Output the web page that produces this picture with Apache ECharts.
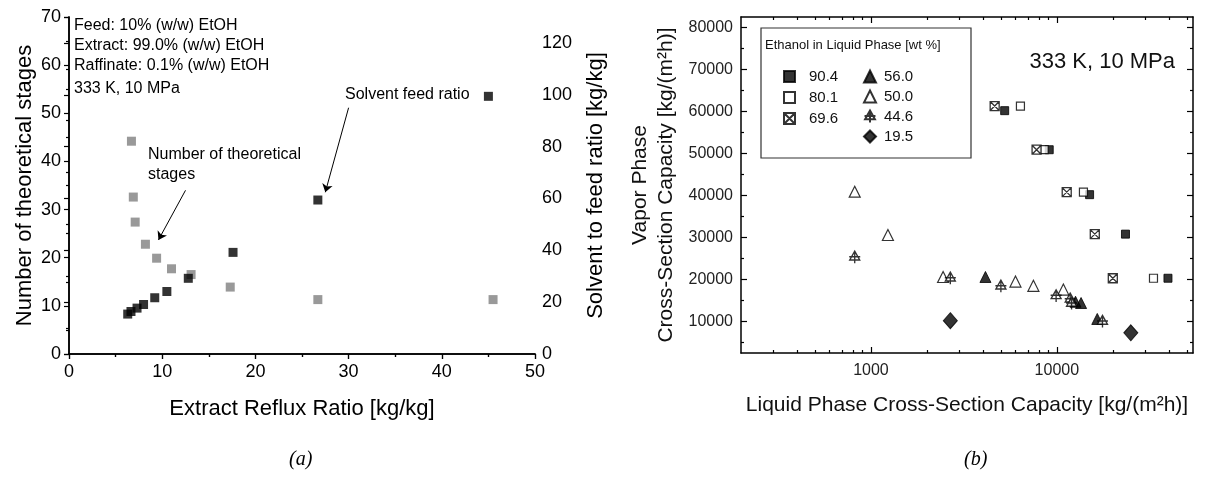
<!DOCTYPE html>
<html>
<head>
<meta charset="utf-8">
<script src="https://cdn.jsdelivr.net/npm/echarts@6.0.0/dist/echarts.min.js"></script>
<style>
  html, body { margin: 0; padding: 0; background: #fff; }
  #chart { width: 1205px; height: 477px; }
</style>
</head>
<body>
<div id="chart"></div>
<script>
'use strict';

/* (a) stages and solvent-to-feed ratio vs. extract reflux ratio */
const stageReflux = [6.7, 6.9, 7.1, 8.2, 9.4, 11.0, 13.1, 17.3, 26.7, 45.5];
const stageCount = [44.2, 32.6, 27.4, 22.8, 19.9, 17.7, 16.5, 13.9, 11.3, 11.3];
const solventReflux = [6.3, 6.65, 7.3, 8.0, 9.2, 10.5, 12.8, 17.6, 26.7, 45.0];
const solventRatio = [15.4, 16.4, 17.7, 19.1, 21.7, 24.1, 29.2, 39.2, 59.4, 99.4];

/* (b) vapour vs. liquid capacity, [liquid, vapour] per ethanol content */
const eth904 = [[5240, 60200], [9100, 50900], [15000, 40200], [23400, 30800], [39600, 20300]];
const eth801 = [[6370, 61300], [8550, 50900], [13900, 40800], [33100, 20300]];
const eth696 = [[4630, 61300], [7780, 50900], [11300, 40800], [16000, 30800], [20000, 20300]];
const eth560 = [[4130, 20600], [12600, 14700], [13500, 14400], [16500, 10600]];
const eth500 = [[818, 40900], [1234, 30600], [2444, 20600], [5990, 19500], [7480, 18500], [10840, 17600]];
const eth446 = [[818, 25300], [2673, 20300], [5000, 18400], [9910, 16100], [11800, 15300], [12000, 14300], [17600, 10000]];
const eth195 = [[2673, 10200], [25000, 7300]];

const vaporMajor = [10000, 20000, 30000, 40000, 50000, 60000, 70000, 80000];
const vaporMinor = [5000, 15000, 25000, 35000, 45000, 55000, 65000, 75000];
const liquidMajor = [1000, 10000];
const liquidMinor = [300, 400, 500, 600, 700, 800, 900, 2000, 3000, 4000, 5000, 6000, 7000, 8000, 9000, 20000, 30000, 40000, 50000];

const FONT = "'Liberation Sans', Arial, Helvetica, sans-serif";
const SERIF = "'Liberation Serif', 'Times New Roman', serif";

// Square with an X through it, and a triangle with a cross (Origin-style markers)
const CROSS_SQUARE = 'path://M0,0H10V10H0Z M0,0L10,10 M10,0L0,10';
const CROSS_TRIANGLE = 'path://M5,0L9.5,8H0.5Z M5,0V11 M0,5H10';

const line = (w) => ({ show: true, lineStyle: { color: '#000', width: w || 1.5 } });
const noLabel = { show: false };

const leftX = (extra) => Object.assign({
  type: 'value', gridIndex: 0, min: 0, max: 50, interval: 10,
  axisLine: line(), splitLine: { show: false },
  axisTick: { length: 5, lineStyle: { color: '#000', width: 1.2 } },
  minorTick: { show: true, splitNumber: 2, length: 3, lineStyle: { color: '#000', width: 1.2 } },
}, extra);

const logX = (extra) => Object.assign({
  type: 'log', logBase: 10, gridIndex: 1, min: 200, max: 54000,
  axisLine: line(1.5), splitLine: { show: false }, minorTick: { show: false },
}, extra);

const linY = (extra) => Object.assign({
  type: 'value', gridIndex: 1, min: 2500, max: 82500,
  axisLine: line(1.5), splitLine: { show: false }, minorTick: { show: false },
}, extra);

const tickStyle = (custom, len) => ({
  show: true, inside: true, length: len, customValues: custom,
  lineStyle: { color: '#000', width: 1.2 },
});

const option = {
  animation: false,
  backgroundColor: '#fff',
  grid: [
    { left: 69, right: 670, top: 17, bottom: 123 },
    { left: 741, right: 12, top: 17, bottom: 124 },
  ],
  xAxis: [
    leftX({
      position: 'bottom',
      axisLabel: { fontSize: 18, color: '#000', fontFamily: FONT, margin: 9 },
      name: 'Extract Reflux Ratio [kg/kg]', nameLocation: 'middle', nameGap: 44,
      nameTextStyle: { fontSize: 22, color: '#000', fontFamily: FONT },
    }),
    leftX({
      position: 'top',
      axisTick: { inside: true, length: 5, lineStyle: { color: '#000', width: 1.2 } },
      axisLabel: noLabel,
    }),
    logX({
      position: 'bottom',
      axisTick: tickStyle(liquidMajor, 6),
      axisLabel: {
        customValues: liquidMajor, fontSize: 16, color: '#222', fontFamily: FONT, margin: 10,
        formatter: (v) => String(Math.round(v)),
      },
      name: 'Liquid Phase Cross-Section Capacity [kg/(m²h)]', nameLocation: 'middle', nameGap: 42,
      nameTextStyle: { fontSize: 21, color: '#111', fontFamily: FONT },
    }),
    logX({ position: 'bottom', axisLine: { show: false }, axisTick: tickStyle(liquidMinor, 3), axisLabel: noLabel }),
    logX({ position: 'top', axisTick: tickStyle(liquidMajor, 6), axisLabel: noLabel }),
    logX({ position: 'top', axisLine: { show: false }, axisTick: tickStyle(liquidMinor, 3), axisLabel: noLabel }),
  ],
  yAxis: [
    {
      type: 'value', gridIndex: 0, position: 'left', min: 0, max: 70, interval: 10,
      axisLine: line(), splitLine: { show: false },
      axisTick: { length: 5, lineStyle: { color: '#000', width: 1.2 } },
      minorTick: { show: true, splitNumber: 2, length: 3, lineStyle: { color: '#000', width: 1.2 } },
      axisLabel: { fontSize: 18, color: '#000', fontFamily: FONT, margin: 8 },
      name: 'Number of theoretical stages', nameLocation: 'middle', nameGap: 33, nameRotate: 90,
      nameTextStyle: { fontSize: 22, color: '#000', fontFamily: FONT },
    },
    {
      type: 'value', gridIndex: 0, position: 'right', min: 0, max: 130, interval: 20,
      axisLine: line(), splitLine: { show: false },
      axisTick: { inside: true, length: 5, lineStyle: { color: '#000', width: 1.2 } },
      minorTick: { show: true, splitNumber: 2, length: 3, lineStyle: { color: '#000', width: 1.2 } },
      axisLabel: { fontSize: 18, color: '#000', fontFamily: FONT, margin: 7, showMaxLabel: false },
      name: 'Solvent to feed ratio [kg/kg]', nameLocation: 'middle', nameGap: 50, nameRotate: 90,
      nameTextStyle: { fontSize: 22, color: '#000', fontFamily: FONT },
    },
    linY({
      position: 'left',
      axisTick: tickStyle(vaporMajor, 6),
      axisLabel: {
        customValues: vaporMajor, fontSize: 16, color: '#222', fontFamily: FONT, margin: 8,
        formatter: (v) => String(v),
      },
      name: 'Vapor Phase\nCross-Section Capacity [kg/(m²h)]', nameLocation: 'middle', nameGap: 62,
      nameTextStyle: { fontSize: 21, color: '#111', fontFamily: FONT, lineHeight: 26, align: 'center' },
    }),
    linY({ position: 'left', axisLine: { show: false }, axisTick: tickStyle(vaporMinor, 3), axisLabel: noLabel }),
    linY({ position: 'right', axisTick: tickStyle(vaporMajor, 6), axisLabel: noLabel }),
    linY({ position: 'right', axisLine: { show: false }, axisTick: tickStyle(vaporMinor, 3), axisLabel: noLabel }),
  ],
  legend: [
    {
      data: ['90.4', '80.1', '69.6'],
      orient: 'vertical', left: 778, top: 64, itemWidth: 11, itemHeight: 11, itemGap: 6,
      textStyle: { fontSize: 15, color: '#111', fontFamily: FONT, padding: [0, 0, 0, 9] },
      selectedMode: false,
    },
    {
      data: ['56.0', '50.0', '44.6', '19.5'],
      orient: 'vertical', left: 858, top: 64, itemWidth: 12, itemHeight: 12, itemGap: 5,
      textStyle: { fontSize: 15, color: '#111', fontFamily: FONT, padding: [0, 0, 0, 3] },
      selectedMode: false,
    },
  ],
  graphic: [
    { type: 'text', left: 74, top: 18, style: { text: 'Feed: 10% (w/w) EtOH', fontSize: 16, fontFamily: FONT, fill: '#000' } },
    { type: 'text', left: 74, top: 38, style: { text: 'Extract: 99.0% (w/w) EtOH', fontSize: 16, fontFamily: FONT, fill: '#000' } },
    { type: 'text', left: 74, top: 58, style: { text: 'Raffinate: 0.1% (w/w) EtOH', fontSize: 16, fontFamily: FONT, fill: '#000' } },
    { type: 'text', left: 74, top: 81, style: { text: '333 K, 10 MPa', fontSize: 16, fontFamily: FONT, fill: '#000' } },
    { type: 'text', left: 148, top: 145, style: { text: 'Number of theoretical\nstages', fontSize: 16, lineHeight: 20, fontFamily: FONT, fill: '#000' } },
    { type: 'text', left: 345, top: 87, style: { text: 'Solvent feed ratio', fontSize: 16, fontFamily: FONT, fill: '#000' } },
    { type: 'text', left: 289, top: 450, style: { text: '(a)', fontSize: 20, fontStyle: 'italic', fontFamily: SERIF, fill: '#000' } },
    { type: 'text', left: 964, top: 450, style: { text: '(b)', fontSize: 20, fontStyle: 'italic', fontFamily: SERIF, fill: '#000' } },
    {
      type: 'rect', shape: { x: 761, y: 28, width: 210, height: 130 },
      style: { fill: 'none', stroke: '#333', lineWidth: 1.2 },
    },
    { type: 'text', left: 765, top: 39, style: { text: 'Ethanol in Liquid Phase [wt %]', fontSize: 13, fontFamily: FONT, fill: '#111' } },
    { type: 'text', right: 30, top: 51, style: { text: '333 K, 10 MPa', fontSize: 22, fontFamily: FONT, fill: '#111' } },
  ],
  series: [
    {
      name: 'Number of theoretical stages', type: 'scatter', xAxisIndex: 0, yAxisIndex: 0,
      symbol: 'rect', symbolSize: 9, itemStyle: { color: '#808080' },
      data: stageReflux.map((x, i) => [x, stageCount[i]]),
      markLine: {
        silent: true, symbol: ['none', 'arrow'], symbolSize: 8, label: { show: false },
        lineStyle: { type: 'solid', color: '#000', width: 1 },
        data: [[{ coord: [12.5, 34.0] }, { coord: [9.6, 23.7] }]],
      },
    },
    {
      name: 'Solvent feed ratio', type: 'scatter', xAxisIndex: 0, yAxisIndex: 1,
      symbol: 'rect', symbolSize: 9, itemStyle: { color: '#000' },
      data: solventReflux.map((x, i) => [x, solventRatio[i]]),
      markLine: {
        silent: true, symbol: ['none', 'arrow'], symbolSize: 8, label: { show: false },
        lineStyle: { type: 'solid', color: '#000', width: 1 },
        data: [[{ coord: [30.0, 95.0] }, { coord: [27.5, 62.4] }]],
      },
    },
    {
      name: '90.4', type: 'scatter', xAxisIndex: 2, yAxisIndex: 2, symbol: 'rect', symbolSize: 8,
      itemStyle: { color: '#000', borderColor: '#000', borderWidth: 1 }, data: eth904,
    },
    {
      name: '80.1', type: 'scatter', xAxisIndex: 2, yAxisIndex: 2, symbol: 'rect', symbolSize: 8,
      itemStyle: { color: '#fff', borderColor: '#000', borderWidth: 1.2 }, data: eth801,
    },
    {
      name: '69.6', type: 'scatter', xAxisIndex: 2, yAxisIndex: 2, symbol: CROSS_SQUARE, symbolSize: 9,
      itemStyle: { color: '#fff', borderColor: '#000', borderWidth: 1.3 }, data: eth696,
    },
    {
      name: '56.0', type: 'scatter', xAxisIndex: 2, yAxisIndex: 2, symbol: 'triangle', symbolSize: 11,
      itemStyle: { color: '#000', borderColor: '#000', borderWidth: 1 }, data: eth560,
    },
    {
      name: '50.0', type: 'scatter', xAxisIndex: 2, yAxisIndex: 2, symbol: 'triangle', symbolSize: 11,
      itemStyle: { color: '#fff', borderColor: '#000', borderWidth: 1.2 }, data: eth500,
    },
    {
      name: '44.6', type: 'scatter', xAxisIndex: 2, yAxisIndex: 2, symbol: CROSS_TRIANGLE, symbolSize: [11, 12],
      itemStyle: { color: '#fff', borderColor: '#000', borderWidth: 1.4 }, data: eth446,
    },
    {
      name: '19.5', type: 'scatter', xAxisIndex: 2, yAxisIndex: 2, symbol: 'diamond', symbolSize: [14, 16],
      itemStyle: { color: '#000', borderColor: '#000', borderWidth: 1 }, data: eth195,
    },
  ],
};

const chart = echarts.init(document.getElementById('chart'), null, { renderer: 'canvas' });
chart.setOption(option);
window.addEventListener('resize', () => chart.resize());
</script>
</body>
</html>
